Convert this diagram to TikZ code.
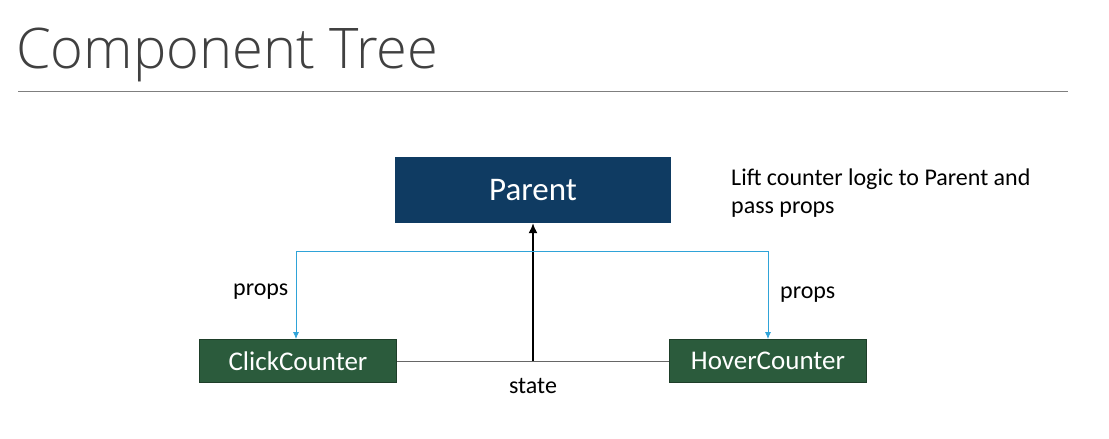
\documentclass[tikz,border=0pt]{standalone}
\usepackage{fontspec}
\setmainfont{Carlito}
\newfontfamily\titlefont{Open Sans Light}
\usetikzlibrary{arrows.meta}
\definecolor{navy}{HTML}{0F3B62}
\definecolor{boxgreen}{HTML}{2B5B3C}
\definecolor{boxedge}{HTML}{1E3E29}
\definecolor{propblue}{HTML}{2FA3D8}
\definecolor{titlegray}{HTML}{404040}
\definecolor{rulegray}{HTML}{7F7F7F}
\begin{document}
\begin{tikzpicture}[x=1pt,y=-1pt,
  parentbox/.style={fill=navy,draw=none,text=white,minimum width=276pt,minimum height=66pt,font=\fontsize{33}{36}\selectfont,inner sep=0pt},
  childbox/.style={fill=boxgreen,draw=boxedge,line width=1pt,text=white,minimum width=197pt,minimum height=43pt,font=\fontsize{27}{30}\selectfont,inner sep=0pt},
  lbl/.style={font=\fontsize{24}{28}\selectfont,text=black,inner sep=0pt},
  propline/.style={draw=propblue,line width=0.8pt,-{Latex[length=7pt,width=6pt]}},
  stateline/.style={draw=black!60,line width=1pt}]
\useasboundingbox (0,0) rectangle (1109,439);
\node[anchor=base west,inner sep=0pt,text=titlegray,font=\titlefont\fontsize{56}{60}\selectfont] (title) at (16,68) {Component Tree};
\coordinate (r1) at (18,91);
\coordinate (r2) at (1068,91);
\draw[rulegray,line width=1pt] (r1) -- (r2);
\node[parentbox] (parent) at (533,190) {Parent};
\node[childbox] (click) at (298,361) {ClickCounter};
\node[childbox] (hover) at (768,361) {HoverCounter};
\coordinate (mid) at (533,361);
\coordinate (bl) at (296,251);
\coordinate (br) at (768,251);
\draw[stateline] (click.east) -- (hover.west);
\draw[draw=black,line width=1.5pt,-{Latex[length=10pt,width=9pt]}] (mid) -- (parent.south);
\draw[propline] (bl) -- (br) -- (hover.north);
\draw[propline] (br) -- (bl) -- (bl |- click.north);
\node[lbl,anchor=base west] (lp) at (233,295) {props};
\node[lbl,anchor=base west] (rp) at (780,298) {props};
\node[lbl,anchor=base] (st) at (533,393) {state};
\node[lbl,anchor=base west] (note1) at (731,185) {Lift counter logic to Parent and};
\node[lbl,anchor=base west] (note2) at (731,213) {pass props};
\end{tikzpicture}
\end{document}
